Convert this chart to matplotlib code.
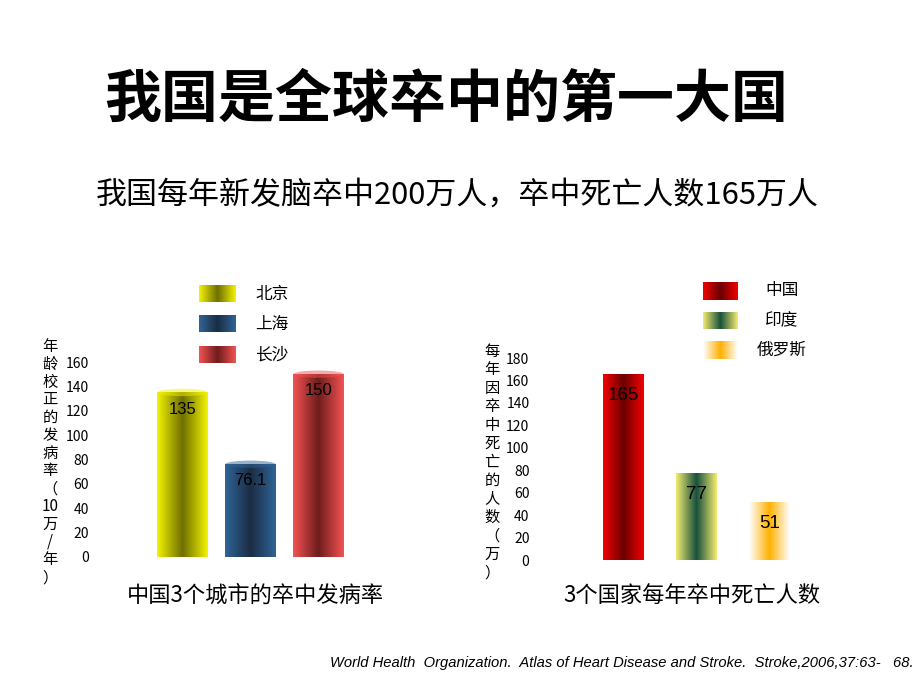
import numpy as np
import matplotlib
matplotlib.use("Agg")
import matplotlib.pyplot as plt
from matplotlib.colors import LinearSegmentedColormap
from matplotlib.patches import Ellipse

plt.rcParams['font.family'] = ['Noto Sans CJK SC', 'DejaVu Sans']

# Left chart: stroke incidence in 3 Chinese cities
cities = ["北京", "上海", "长沙"]
incidence = [135, 76.1, 150]
incidence_labels = ["135", "76.1", "150"]
left_ticks = [0, 20, 40, 60, 80, 100, 120, 140, 160]

# Right chart: yearly stroke deaths in 3 countries
countries = ["中国", "印度", "俄罗斯"]
deaths = [165, 77, 51]
death_labels = ["165", "77", "51"]
right_ticks = [0, 20, 40, 60, 80, 100, 120, 140, 160, 180]

# gradient (edge, centre, edge) per bar
left_grad = [("#f2f200", "#6e6e00"), ("#2f6496", "#1b2c44"), ("#f25252", "#6e1c1c")]
right_grad = [("#f20000", "#6a0000"), ("#f2ea70", "#16503c"), ("#ffffff", "#ffb000")]

W, H = 920, 690
fig = plt.figure(figsize=(9.2, 6.9), dpi=100)


def px_axes(x0, y0, x1, y1):
    # pixel box (top-left origin) -> figure axes
    return fig.add_axes([x0 / W, 1 - y1 / H, (x1 - x0) / W, (y1 - y0) / H])


def grad_img(edge, mid, n=64):
    cmap = LinearSegmentedColormap.from_list("g", [edge, mid, edge])
    return cmap(np.linspace(0, 1, n))[None, :, :]


def draw_grad_bars(ax, bars, grads, cap):
    for b, (edge, mid) in zip(bars, grads):
        x, w, h = b.get_x(), b.get_width(), b.get_height()
        b.set_facecolor("none")
        b.set_edgecolor("none")
        ax.imshow(grad_img(edge, mid), extent=[x, x + w, 0, h], aspect="auto",
                  interpolation="bilinear", zorder=2, clip_on=False)
        if cap:
            ax.add_patch(Ellipse((x + w / 2, h), w, cap, facecolor=edge,
                                 edgecolor="none", alpha=0.5, zorder=3, clip_on=False))


# Title and subtitle
fig.text(0.485, 1 - 100 / H, "我国是全球卒中的第一大国", ha="center", va="center",
         fontsize=41, fontweight="bold")
fig.text(0.497, 1 - 195 / H, "我国每年新发脑卒中200万人，卒中死亡人数165万人",
         ha="center", va="center", fontsize=22.3)

# Left chart
axl = px_axes(100, 362, 360, 557)
xl = np.arange(len(cities))
bars_l = axl.bar(xl, incidence, width=0.74)
draw_grad_bars(axl, bars_l, left_grad, cap=6)
axl.set_xlim(-1.21, 2.61)
axl.set_ylim(0, 160)
axl.set_yticks(left_ticks)
axl.set_xticks([])
axl.tick_params(axis="y", length=0, pad=8, labelsize=10)
for s in axl.spines.values():
    s.set_visible(False)
axl.patch.set_alpha(0)
for xi, v, lab in zip(xl, incidence, incidence_labels):
    axl.annotate(lab, (xi, v), xytext=(0, -12), textcoords="offset points",
                 ha="center", va="center", fontsize=12, family="Liberation Sans", zorder=5)

fig.text(50 / W, 1 - 462 / H, "\n".join(["年", "龄", "校", "正", "的", "发", "病", "率",
                                         "（", "10", "万", "/", "年", "）"]),
         ha="center", va="center", fontsize=11, linespacing=1.06)
fig.text(255 / W, 1 - 595 / H, "中国3个城市的卒中发病率", ha="center", va="center", fontsize=16)

# Right chart
axr = px_axes(535, 358, 805, 560)
xr = np.arange(len(countries))
bars_r = axr.bar(xr, deaths, width=0.56)
draw_grad_bars(axr, bars_r, right_grad, cap=0)
axr.set_xlim(-1.205, 2.49)
axr.set_ylim(0, 180)
axr.set_yticks(right_ticks)
axr.set_xticks([])
axr.tick_params(axis="y", length=0, pad=4, labelsize=10)
for s in axr.spines.values():
    s.set_visible(False)
axr.patch.set_alpha(0)
for xi, v, lab in zip(xr, deaths, death_labels):
    axr.annotate(lab, (xi, v), xytext=(0, -15), textcoords="offset points",
                 ha="center", va="center", fontsize=13.5, family="Liberation Sans", zorder=5)

fig.text(492 / W, 1 - 462 / H, "\n".join(["每", "年", "因", "卒", "中", "死", "亡", "的",
                                          "人", "数", "（", "万", "）"]),
         ha="center", va="center", fontsize=11, linespacing=1.11)
fig.text(692 / W, 1 - 595 / H, "3个国家每年卒中死亡人数", ha="center", va="center", fontsize=16)

# Legends (gradient swatches)
for i, (name, (edge, mid)) in enumerate(zip(cities, left_grad)):
    y0 = 285 + i * 30.5
    sw = px_axes(199, y0, 235, y0 + 17)
    sw.imshow(grad_img(edge, mid), aspect="auto", interpolation="bilinear")
    sw.axis("off")
    fig.text(255 / W, 1 - (y0 + 9) / H, name, ha="left", va="center", fontsize=12)

for i, (name, (edge, mid)) in enumerate(zip(countries, right_grad)):
    y0 = 282 + i * 29.5
    sw = px_axes(703, y0, 738, y0 + 18)
    sw.imshow(grad_img(edge, mid), aspect="auto", interpolation="bilinear")
    sw.axis("off")
    fig.text(782 / W, 1 - (y0 + 9) / H, name, ha="center", va="center", fontsize=12)

# Source
fig.text(330 / W, 1 - 663 / H,
         "World Health  Organization.  Atlas of Heart Disease and Stroke.  Stroke,2006,37:63-   68.",
         ha="left", va="center", fontsize=10.6, style="italic", family="Liberation Sans")

fig.savefig("out.png", dpi=100)
